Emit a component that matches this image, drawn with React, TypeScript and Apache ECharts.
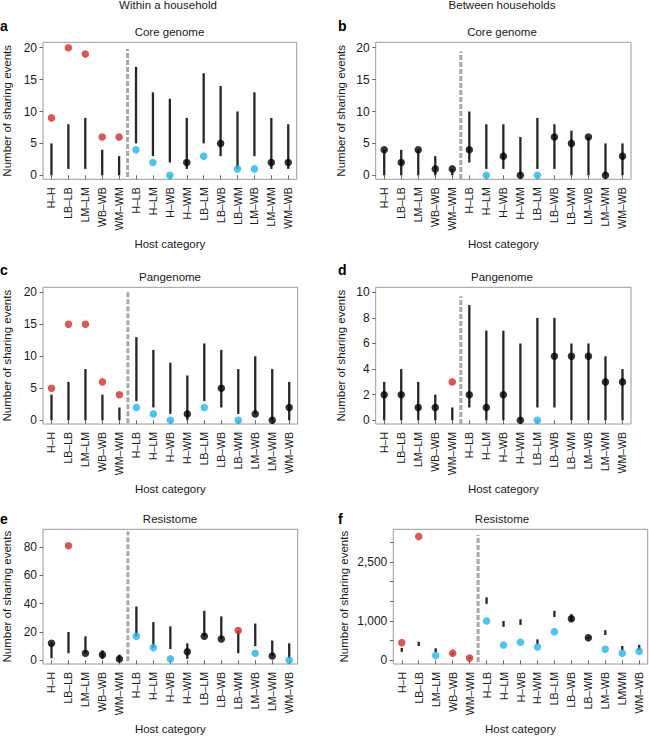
import React, { useEffect, useRef } from "react";
import * as echarts from "echarts";

const categories = ["H–H", "LB–LB", "LM–LM", "WB–WB", "WM–WM", "H–LB", "H–LM", "H–WB", "H–WM", "LB–LM", "LB–WB", "LB–WM", "LM–WB", "LM–WM", "WM–WB"];
const categoriesF = ["H–H", "LB–LB", "LM–LM", "WB–WB", "WM–WM", "H–LB", "H–LM", "H–WB", "H–WM", "LB–LM", "LB–WB", "LB–WM", "LM–WB", "LMWM", "WM–WB"];

// Panel a: within a household, core genome
const aObs = [9, 20, 19, 6, 6, 4, 2, 0, 2, 3, 5, 1, 1, 2, 2];
const aLo = [0, 1, 1, 0, 0, 5, 3, 2, 1, 5, 3, 1, 3, 1, 1];
const aHi = [5, 8, 9, 4, 3, 17, 13, 12, 9, 16, 14, 10, 13, 9, 8];
const aCol = ["r", "r", "r", "r", "r", "b", "b", "b", "k", "b", "k", "b", "b", "k", "k"];

// Panel b: between households, core genome
const bObs = [4, 2, 4, 1, 1, 4, 0, 3, 0, 0, 6, 5, 6, 0, 3];
const bLo = [0, 0, 0, 0, 0, 2, 1, 1, 0, 1, 1, 0, 0, 0, 0];
const bHi = [4, 4, 4, 3, 1, 10, 8, 8, 6, 9, 8, 7, 6, 5, 5];
const bCol = ["k", "k", "k", "k", "k", "k", "b", "k", "k", "b", "k", "k", "k", "k", "k"];

// Panel c: within a household, pangenome
const cObs = [5, 15, 15, 6, 4, 2, 1, 0, 1, 2, 5, 0, 1, 0, 2];
const cLo = [0, 0, 0, 0, 0, 3, 2, 1, 0, 3, 2, 1, 1, 0, 0];
const cHi = [4, 6, 8, 4, 2, 13, 11, 9, 7, 12, 11, 8, 10, 8, 6];
const cCol = ["r", "r", "r", "r", "r", "b", "b", "b", "k", "b", "k", "b", "k", "k", "k"];

// Panel d: between households, pangenome
const dObs = [2, 2, 1, 1, 3, 2, 1, 2, 0, 0, 5, 5, 5, 3, 3];
const dLo = [0, 0, 0, 0, 0, 1, 0, 0, 0, 1, 1, 0, 0, 0, 0];
const dHi = [3, 4, 3, 2, 1, 9, 7, 7, 6, 8, 8, 6, 6, 5, 4];
const dCol = ["k", "k", "k", "k", "r", "k", "k", "k", "k", "b", "k", "k", "k", "k", "k"];

// Panel e: within a household, resistome
const eObs = [12, 81, 5, 4, 1, 17, 9, 1, 6, 17, 15, 21, 5, 3, 0];
const eLo = [1.5, 5, 5, 1, 0, 17, 9, 8, 1, 17, 15, 5, 10, 3, 1.5];
const eHi = [12, 20, 17, 7, 4, 38, 27, 24, 12, 35, 31, 21, 26, 14, 12];
const eCol = ["k", "r", "k", "k", "k", "b", "b", "b", "k", "k", "k", "r", "b", "k", "b"];

// Panel f: between households, resistome
const fObs = [450, 3140, 125, 183, 58, 1000, 392, 458, 342, 725, 1058, 575, 283, 183, 233];
const fLo = [215, 365, 207, 150, 40, 1433, 850, 900, 400, 1100, 992, 550, 642, 250, 267];
const fHi = [315, 475, 307, 200, 70, 1600, 1000, 1042, 533, 1258, 1175, 600, 767, 367, 392];
const fCol = ["r", "r", "b", "r", "r", "b", "b", "b", "b", "b", "k", "k", "b", "b", "b"];

const ticksA = [0, 5, 10, 15, 20];
const ticksD = [0, 2, 4, 6, 8, 10];
const ticksE = [0, 20, 40, 60, 80];
const ticksF = [0, 500, 1000, 1500, 2000, 2500, 3000];
const labelsF = [0, 1000, 2500];

const columnTitles = ["Within a household", "Between households"];
const panelTitles = ["Core genome", "Core genome", "Pangenome", "Pangenome", "Resistome", "Resistome"];
const panelLetters = ["a", "b", "c", "d", "e", "f"];

const COLORS: Record<string, string> = { r: "#d62b2b", b: "#1bb5f0", k: "#000000" };
const FONT = '"Liberation Sans", Arial, Helvetica, sans-serif';

const panels = [
  { cats: categories, obs: aObs, lo: aLo, hi: aHi, col: aCol, ticks: ticksA, labels: ticksA, sep: [-0.27, 19.8],
    layout: { left: 42.3, top: 42.3, width: 254.4, height: 137, min: -0.63, max: 20.85, yGap: 30 } },
  { cats: categories, obs: bObs, lo: bLo, hi: bHi, col: bCol, ticks: ticksA, labels: ticksA, sep: [-0.6, 19.4],
    layout: { left: 375.7, top: 42.3, width: 255.3, height: 137, min: -0.63, max: 20.85, yGap: 28.5 } },
  { cats: categories, obs: cObs, lo: cLo, hi: cHi, col: cCol, ticks: ticksA, labels: ticksA, sep: [-0.47, 20],
    layout: { left: 42.3, top: 287.3, width: 255.4, height: 136.7, min: -0.58, max: 20.78, yGap: 30 } },
  { cats: categories, obs: dObs, lo: dLo, hi: dHi, col: dCol, ticks: ticksD, labels: ticksD, sep: [-0.29, 9.7],
    layout: { left: 375.7, top: 287.3, width: 255.3, height: 136.7, min: -0.29, max: 10.39, yGap: 28.5 } },
  { cats: categories, obs: eObs, lo: eLo, hi: eHi, col: eCol, ticks: ticksE, labels: ticksE, sep: [-0.7, 91],
    layout: { left: 42.3, top: 529.3, width: 255.4, height: 136.7, min: -2.6, max: 92.6, yGap: 30 } },
  { cats: categoriesF, obs: fObs, lo: fLo, hi: fHi, col: fCol, ticks: ticksF, labels: labelsF, sep: [-40, 3180],
    layout: { left: 393.3, top: 529.3, width: 254.4, height: 136.7, min: -92, max: 3325, yGap: 43.5 } },
];

const titlePos = [
  { letterX: 0, letterY: 25.7, titleX: 169.5, titleY: 32.3 },
  { letterX: 338, letterY: 25.7, titleX: 502, titleY: 32.3 },
  { letterX: 0, letterY: 270, titleX: 170, titleY: 276.7 },
  { letterX: 338, letterY: 270, titleX: 502, titleY: 276.7 },
  { letterX: 0, letterY: 519.3, titleX: 170, titleY: 519.3 },
  { letterX: 338, letterY: 519.3, titleX: 502, titleY: 519.3 },
];

export default function App() {
  const ref = useRef<HTMLDivElement>(null);
  useEffect(() => {
    if (!ref.current) return;
    const chart = echarts.init(ref.current, null, { renderer: "svg" });
    const grid: any[] = [];
    const xAxis: any[] = [];
    const yAxis: any[] = [];
    const series: any[] = [];
    const xTickVals = categories.map((_, i) => i + 1);

    panels.forEach((p, i) => {
      const L = p.layout;
      grid.push({ left: L.left, top: L.top, width: L.width, height: L.height, show: true, borderColor: "#9a9a9a", borderWidth: 1, backgroundColor: "transparent" });
      xAxis.push({
        type: "value", gridIndex: i, min: 0.5, max: 15.5,
        axisLine: { show: false }, splitLine: { show: false },
        axisTick: { show: true, length: 4, lineStyle: { color: "#666" }, customValues: xTickVals },
        axisLabel: { show: true, rotate: 90, margin: 8, fontSize: 10.5, color: "#1a1a1a", fontFamily: FONT, customValues: xTickVals,
          formatter: (v: number) => p.cats[Math.round(v) - 1] ?? "" },
        name: "Host category", nameLocation: "middle", nameGap: 59,
        nameTextStyle: { fontSize: 11.5, color: "#1a1a1a", fontFamily: FONT },
      });
      yAxis.push({
        type: "value", gridIndex: i, min: L.min, max: L.max,
        axisLine: { show: false }, splitLine: { show: false },
        axisTick: { show: true, length: 3.5, lineStyle: { color: "#666" }, customValues: p.ticks },
        axisLabel: { show: true, margin: 6, fontSize: 12, color: "#1a1a1a", fontFamily: FONT, customValues: p.labels,
          formatter: (v: number) => Math.round(v).toLocaleString("en-US") },
        name: "Number of sharing events", nameLocation: "middle", nameGap: L.yGap, nameRotate: 90,
        nameTextStyle: { fontSize: 11.5, color: "#1a1a1a", fontFamily: FONT },
      });
      // dashed separator
      series.push({
        type: "line", xAxisIndex: i, yAxisIndex: i, data: [[5.5, p.sep[0]], [5.5, p.sep[1]]],
        symbol: "none", silent: true, z: 1,
        lineStyle: { color: "#a8a8a8", width: 3, type: [5, 2] },
      });
      // intervals
      series.push({
        type: "custom", xAxisIndex: i, yAxisIndex: i, z: 2, silent: true,
        data: p.lo.map((lo, k) => [k + 1, lo, p.hi[k]]),
        encode: { x: 0, y: [1, 2] },
        renderItem: (params: any, api: any) => {
          const x = api.value(0);
          const a = api.coord([x, api.value(1)]);
          const b = api.coord([x, api.value(2)]);
          return { type: "line", shape: { x1: a[0], y1: a[1], x2: b[0], y2: b[1] }, style: { stroke: "#262626", lineWidth: 2.3 } };
        },
      });
      // observed values
      series.push({
        type: "scatter", xAxisIndex: i, yAxisIndex: i, z: 3, silent: true, symbol: "circle", symbolSize: 7.5,
        data: p.obs.map((v, k) => ({ value: [k + 1, v], itemStyle: { color: COLORS[p.col[k]] } })),
      });
    });

    const graphic: any[] = [];
    columnTitles.forEach((t, i) => {
      graphic.push({ type: "text", x: i === 0 ? 168 : 502, y: 5, style: { text: t, align: "center", verticalAlign: "middle", fontSize: 11.5, fontFamily: FONT, fill: "#1a1a1a" } });
    });
    titlePos.forEach((tp, i) => {
      graphic.push({ type: "text", x: tp.letterX, y: tp.letterY, style: { text: panelLetters[i], align: "left", verticalAlign: "middle", fontSize: 14, fontWeight: "bold", fontFamily: FONT, fill: "#000" } });
      graphic.push({ type: "text", x: tp.titleX, y: tp.titleY, style: { text: panelTitles[i], align: "center", verticalAlign: "middle", fontSize: 11.5, fontFamily: FONT, fill: "#1a1a1a" } });
    });

    chart.setOption({ animation: false, backgroundColor: "#ffffff", grid, xAxis, yAxis, series, graphic });
    return () => chart.dispose();
  }, []);
  return <div ref={ref} style={{ position: "fixed", left: 0, top: 0, width: 649, height: 736 }} />;
}
